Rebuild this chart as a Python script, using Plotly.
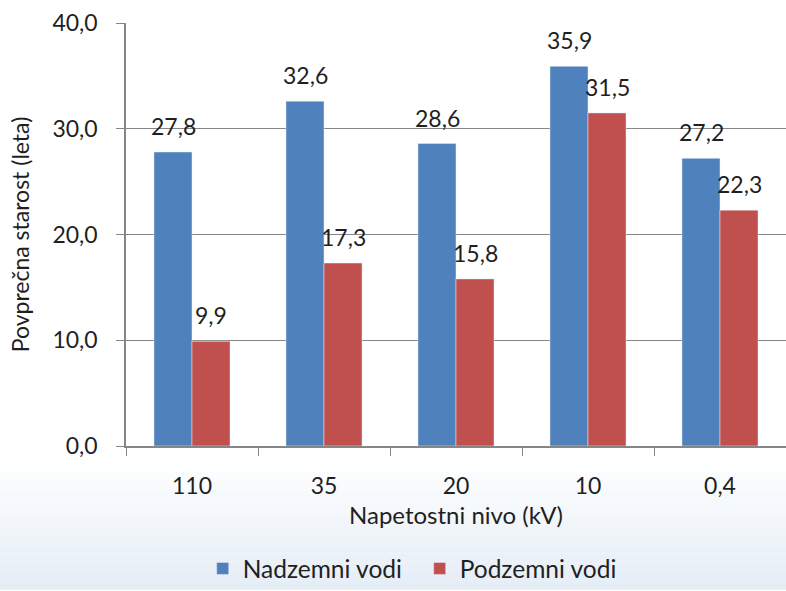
import plotly.graph_objects as go

categories = ["110", "35", "20", "10", "0,4"]
nadzemni = [27.8, 32.6, 28.6, 35.9, 27.2]
podzemni = [9.9, 17.3, 15.8, 31.5, 22.3]
y_ticks = [0, 10, 20, 30, 40]

FONT = "Lato, Open Sans, sans-serif"
TXT = "#1f1f1f"
BLUE = "#4F81BD"
RED = "#C0504D"
FS = 23

fig = go.Figure()
fig.add_trace(go.Bar(x=categories, y=nadzemni, name="Nadzemni vodi", marker_color=BLUE))
fig.add_trace(go.Bar(x=categories, y=podzemni, name="Podzemni vodi", marker_color=RED))

annotations = []
for i, v in enumerate(nadzemni):
    annotations.append(dict(x=i, y=v, text=f"{v:.1f}".replace(".", ","), showarrow=False,
                            xref="x", yref="y", xshift=-19, yshift=10, yanchor="bottom",
                            font=dict(family=FONT, size=FS, color=TXT)))
for i, v in enumerate(podzemni):
    annotations.append(dict(x=i, y=v, text=f"{v:.1f}".replace(".", ","), showarrow=False,
                            xref="x", yref="y", xshift=19, yshift=10, yanchor="bottom",
                            font=dict(family=FONT, size=FS, color=TXT)))

# soft bluish haze at the bottom of the picture
shapes = []
n = 14
top, bottom = -0.04, -0.34
for k in range(n):
    y1 = top + (bottom - top) * k / n
    y0 = top + (bottom - top) * (k + 1) / n
    shapes.append(dict(type="rect", xref="paper", yref="paper", x0=-0.25, x1=1.02, y0=y0, y1=y1,
                       fillcolor="#E2EBF5", opacity=min(1.0, (k + 1) / n * 0.9), line_width=0, layer="below"))

fig.update_layout(
    width=786, height=591,
    margin=dict(l=126, r=0, t=23, b=134),
    paper_bgcolor="white", plot_bgcolor="white",
    separators=",.",
    barmode="group", bargap=0.424, bargroupgap=0,
    font=dict(family=FONT, size=FS, color=TXT),
    showlegend=True,
    legend=dict(orientation="h", x=0.445, xanchor="center", y=-0.29, yanchor="middle",
                bgcolor="rgba(0,0,0,0)", entrywidth=172, entrywidthmode="pixels",
                font=dict(family=FONT, size=24.5, color=TXT)),
    annotations=annotations,
    shapes=shapes,
    xaxis=dict(
        type="category", range=[-0.5, 4.5], automargin=False,
        title=dict(text="Napetostni nivo (kV)", font=dict(family=FONT, size=24, color=TXT), standoff=9),
        tickson="boundaries", ticks="outside", ticklen=8, tickcolor="#868686",
        ticklabelstandoff=19,
        showline=True, linecolor="#868686", linewidth=1.5,
        tickfont=dict(family=FONT, size=FS, color=TXT),
    ),
    yaxis=dict(
        automargin=False,
        title=dict(text="Povprečna starost (leta)", font=dict(family=FONT, size=FS, color=TXT), standoff=16),
        range=[0, 40], tickvals=y_ticks, tickformat=".1f",
        ticks="outside", ticklen=8, tickcolor="#868686",
        ticklabelstandoff=14,
        showline=True, linecolor="#868686", linewidth=1.5,
        showgrid=True, gridcolor="#868686", gridwidth=1.2,
        zeroline=False,
        tickfont=dict(family=FONT, size=FS, color=TXT),
    ),
)

fix_js = (
    "(function(){"
    "function fix(){"
    "document.documentElement.style.overflow='hidden';"
    "document.body.style.margin='0';"
    "document.body.style.overflow='hidden';"
    "var gd=document.getElementById('{plot_id}');"
    "if(gd){gd.style.overflow='hidden';gd.style.lineHeight='0';}"
    "document.querySelectorAll('.svg-container').forEach(function(e){e.style.display='block';e.style.verticalAlign='top';});"
    "}"
    "fix();setTimeout(fix,0);window.addEventListener('load',fix);"
    "})();"
)

fig.write_html("out.html", config={"displayModeBar": False}, post_script=fix_js)
